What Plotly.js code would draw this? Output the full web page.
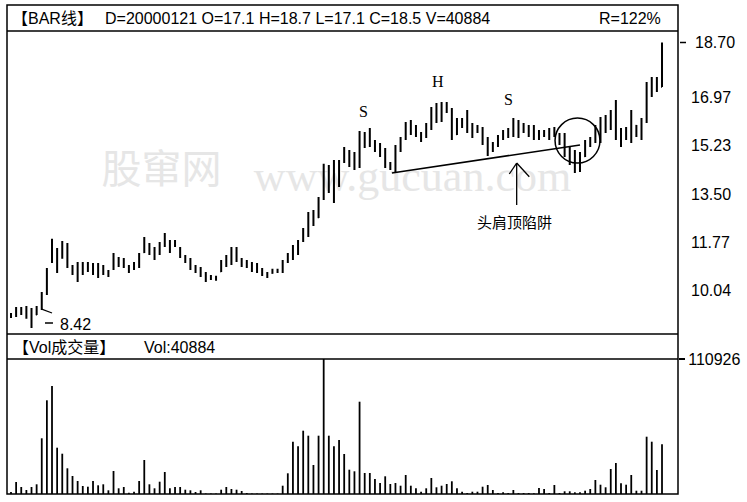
<!DOCTYPE html>
<html><head><meta charset="utf-8">
<script src="https://cdn.plot.ly/plotly-3.0.1.min.js"></script>
<style>html,body{margin:0;padding:0;background:#fff}#chart{width:747px;height:502px}</style>
</head><body><div id="chart"></div>
<script>
const openP = [8.85,8.90,9.05,8.95,9.10,8.90,9.15,9.70,10.80,11.20,
11.00,11.40,10.60,10.40,10.55,10.50,10.65,10.40,10.55,10.45,
10.55,10.90,10.70,10.65,10.55,10.70,11.15,11.40,11.20,11.10,
11.40,11.50,11.40,11.30,11.00,10.85,10.60,10.50,10.35,10.20,
10.25,10.45,10.75,10.90,11.20,10.90,10.70,10.75,10.55,10.50,
10.35,10.40,10.45,10.50,10.80,11.00,11.30,11.55,11.90,12.40,
12.40,13.10,14.10,13.30,14.30,14.40,14.70,14.30,14.50,15.40,
15.00,15.10,14.90,14.80,14.30,14.10,14.90,15.25,15.80,15.50,
15.40,15.30,15.70,16.20,16.30,16.20,16.30,15.40,15.90,15.60,
15.70,15.50,15.60,15.10,14.80,15.00,15.30,15.40,15.50,15.80,
15.50,15.65,15.40,15.50,15.35,15.40,15.50,15.40,15.10,14.80,
14.40,14.20,14.60,15.10,15.20,15.60,15.50,15.90,16.10,15.30,
15.50,15.30,15.70,15.40,15.90,17.10,17.30,17.10];
const highP = [8.96,9.18,9.18,9.21,9.14,9.21,9.72,10.58,11.63,11.30,
11.55,11.48,10.69,10.80,10.80,10.80,10.76,10.76,10.69,10.51,
11.12,10.98,10.94,10.69,10.80,11.12,11.70,11.48,11.34,11.52,
11.84,11.59,11.59,11.34,11.05,10.94,10.69,10.62,10.44,10.33,
10.30,10.87,11.05,11.34,11.34,10.94,10.87,10.80,10.76,10.58,
10.44,10.55,10.55,10.87,11.12,11.41,11.59,12.02,12.60,12.67,
13.14,14.33,14.29,14.47,14.47,14.94,14.83,14.76,15.51,15.48,
15.62,15.19,15.08,14.90,14.40,15.01,15.30,15.84,15.91,15.73,
15.48,15.80,16.38,16.52,16.56,16.56,16.34,15.98,15.98,16.27,
15.80,15.73,15.66,15.30,15.12,15.37,15.55,15.62,15.98,15.91,
15.80,15.73,15.73,15.55,15.55,15.62,15.66,15.44,15.44,14.94,
14.83,14.76,15.19,15.30,15.73,16.02,16.09,16.27,16.63,15.62,
15.66,16.27,15.73,15.98,17.28,17.46,17.46,18.70];
const lowP = [8.78,8.82,8.89,8.75,8.42,8.89,9.07,9.61,10.76,10.40,
10.91,10.58,10.33,10.08,10.33,10.44,10.33,10.22,10.33,10.26,
10.51,10.62,10.58,10.40,10.51,10.58,11.12,11.05,10.87,11.05,
11.34,11.12,11.34,10.94,10.76,10.51,10.40,10.26,10.08,10.15,
10.12,10.44,10.62,10.69,10.80,10.62,10.58,10.44,10.40,10.29,
10.22,10.37,10.40,10.40,10.76,10.87,11.05,11.52,11.70,12.09,
12.38,13.03,13.28,12.92,13.50,14.36,14.22,14.11,14.18,14.90,
14.94,14.76,14.58,14.18,14.11,14.04,14.76,15.19,15.37,15.30,
15.12,15.26,15.55,15.80,15.84,16.16,15.19,15.37,15.62,15.44,
15.26,15.44,15.01,14.61,14.76,14.94,15.19,15.26,15.30,15.26,
15.44,15.30,15.19,15.19,15.30,15.19,15.30,15.01,14.58,14.29,
14.00,14.04,14.58,14.94,15.08,15.08,15.44,15.55,15.19,14.94,
15.19,15.08,15.30,15.19,15.80,16.74,16.92,17.10];
const closeP = [8.90,9.05,8.95,9.10,8.80,9.15,9.65,10.50,11.30,11.10,
11.45,10.70,10.45,10.60,10.45,10.70,10.40,10.60,10.45,10.35,
11.00,10.70,10.85,10.50,10.70,11.05,11.55,11.20,11.00,11.45,
11.70,11.30,11.50,11.00,10.85,10.60,10.50,10.35,10.15,10.25,
10.20,10.80,10.95,11.25,10.90,10.70,10.80,10.55,10.60,10.35,
10.30,10.50,10.50,10.80,11.05,11.35,11.50,11.95,12.50,12.30,
13.05,14.20,13.40,14.30,14.40,14.85,14.30,14.65,15.40,15.00,
15.50,14.85,14.70,14.25,14.20,14.95,15.25,15.75,15.50,15.60,
15.20,15.70,16.30,16.40,16.00,16.50,15.30,15.90,15.70,16.20,
15.40,15.60,15.10,14.70,15.00,15.30,15.50,15.55,15.90,15.40,
15.70,15.40,15.60,15.30,15.45,15.55,15.40,15.10,14.70,14.40,
14.20,14.60,15.10,15.20,15.65,15.20,16.00,16.10,15.30,15.50,
15.30,16.10,15.40,15.90,17.20,17.30,17.10,18.50];
const volume = [1600,9860,5750,3290,5750,7970,45770,76990,88740,38040,
33110,21120,14790,10680,6570,6000,10680,7150,7970,3040,
18900,4680,5750,1070,1890,10680,27940,7970,4680,10110,
18080,4680,5750,5750,3530,3040,1640,3040,410,410,
410,3530,5750,4110,3530,2470,820,410,410,410,
410,410,410,6820,17010,42970,39200,52010,47910,23830,
47910,110926,47910,39200,44370,32870,19970,18650,75840,17260,
17260,12330,9040,14540,8220,9040,6820,15610,6820,4680,
1890,4680,13150,5510,6820,8220,10440,4680,1890,820,
1890,1890,6000,7400,3290,820,1400,820,3290,820,
820,820,580,4930,4110,820,7400,820,2220,2220,
1400,1400,2710,4110,11500,7640,5510,20540,25470,8790,
7640,15610,2710,2710,47080,42970,19720,40884];
const priceTicks = [16.97, 15.23, 13.50, 11.77, 10.04];
const priceTickText = ['16.97', '15.23', '13.50', '11.77', '10.04'];
const volTicks = [110926];
const volTickText = ['110926'];
const headerText = 'D=20000121 O=17.1 H=18.7 L=17.1 C=18.5 V=40884';
const maxPrice = 18.70, minPrice = 8.42;

const dayIndex = highP.map((_, i) => i);
const sans = 'Liberation Sans, Arial, Noto Sans CJK SC, sans-serif';
const cjk = 'Noto Sans CJK SC, sans-serif';
const serif = 'Liberation Serif, Times New Roman, serif';
const K = '#000';

const traces = [
  {type: 'ohlc', x: dayIndex, open: openP, high: highP, low: lowP, close: closeP,
   xaxis: 'x', yaxis: 'y', tickwidth: 0.14, hoverinfo: 'skip',
   increasing: {line: {color: K, width: 2}}, decreasing: {line: {color: K, width: 2}}},
  {type: 'bar', x: dayIndex, y: volume, xaxis: 'x', yaxis: 'y2', width: 0.35,
   marker: {color: K, line: {width: 0}}, hoverinfo: 'skip'}
];

const py = p => (494 - p) / 489;   // pixel row -> paper fraction
const px = p => (p - 7) / 671;     // pixel col -> paper fraction
const ln = (x0, y0, x1, y1, w) => ({type: 'line', xref: 'x', yref: 'y', x0, y0, x1, y1, line: {color: K, width: w}});

const layout = {
  width: 747, height: 502,
  margin: {l: 7, r: 69, t: 5, b: 8, pad: 0},
  paper_bgcolor: '#fff', plot_bgcolor: '#fff',
  showlegend: false,
  font: {family: sans, size: 16, color: K},
  xaxis: {range: [-0.78, 130.12], showgrid: false, zeroline: false, showticklabels: false,
          ticks: '', showline: false, rangeslider: {visible: false}, fixedrange: true},
  yaxis: {domain: [py(334), py(31)], range: [8.204, 19.114], side: 'right',
          tickvals: priceTicks, ticktext: priceTickText, ticks: '',
          showgrid: false, zeroline: false, showline: false,
          ticklabelshift: 7, ticklabelstandoff: 12, tickfont: {family: sans, size: 16, color: K}},
  yaxis2: {domain: [0, py(359)], range: [0, 110926], side: 'right',
           tickvals: volTicks, ticktext: volTickText, ticks: 'outside', ticklen: 6,
           tickwidth: 1.5, tickcolor: K, showgrid: false, zeroline: false, showline: false,
           tickfont: {family: sans, size: 16, color: K}},
  shapes: [
    {type: 'rect', xref: 'paper', yref: 'paper', x0: 0, x1: 1, y0: 0, y1: 1, line: {color: K, width: 1.5}},
    {type: 'line', xref: 'paper', yref: 'paper', x0: 0, x1: 1, y0: py(31), y1: py(31), line: {color: K, width: 1.5}},
    {type: 'line', xref: 'paper', yref: 'paper', x0: 0, x1: 1, y0: py(334), y1: py(334), line: {color: K, width: 1.5}},
    {type: 'line', xref: 'paper', yref: 'paper', x0: 0, x1: 1, y0: py(359), y1: py(359), line: {color: K, width: 1.5}},
    // watermark (below traces)
    {type: 'rect', xref: 'paper', yref: 'paper', x0: px(100), x1: px(223), y0: py(190), y1: py(153),
     layer: 'below', line: {width: 0}, fillcolor: 'rgba(0,0,0,0)',
     label: {text: '股窜网', textposition: 'middle center', font: {family: cjk, size: 40, color: '#e6e6e6'}}},
    {type: 'rect', xref: 'paper', yref: 'paper', x0: px(252), x1: px(573), y0: py(192), y1: py(150),
     layer: 'below', line: {width: 0}, fillcolor: 'rgba(0,0,0,0)',
     label: {text: 'www.gucuan.com', textposition: 'middle center', font: {family: serif, size: 44, color: '#e6e6e6'}}},
    // max marker dash
    {type: 'line', xref: 'paper', yref: 'y', x0: px(680), x1: px(686), y0: maxPrice, y1: maxPrice, line: {color: K, width: 1.5}},
    // min marker leader
    ln(5.99, 9.10, 8.0, 8.96, 1.2),
    ln(6.63, 8.60, 8.19, 8.60, 1.5),
    // neckline
    ln(74.3, 14.00, 111.0, 15.01, 1.6),
    // circle
    {type: 'circle', xref: 'x', yref: 'y', x0: 106.13, x1: 114.9, y0: 14.36, y1: 15.98, line: {color: K, width: 1.5}},
    // arrow to neckline
    ln(98.65, 12.85, 98.65, 14.36, 1.3),
    ln(97.21, 13.965, 98.65, 14.36, 1.3),
    ln(101.11, 13.868, 98.65, 14.36, 1.3)
  ],
  annotations: [
    {xref: 'paper', yref: 'paper', x: px(10), y: py(18), xanchor: 'left', yanchor: 'middle', showarrow: false,
     text: '【BAR线】', font: {family: sans, size: 16, color: K}},
    {xref: 'paper', yref: 'paper', x: px(103), y: py(18), xanchor: 'left', yanchor: 'middle', showarrow: false,
     text: headerText, font: {family: sans, size: 16, color: K}},
    {xref: 'paper', yref: 'paper', x: px(597), y: py(18), xanchor: 'left', yanchor: 'middle', showarrow: false,
     text: 'R=122%', font: {family: sans, size: 16, color: K}},
    {xref: 'paper', yref: 'paper', x: px(11), y: py(347), xanchor: 'left', yanchor: 'middle', showarrow: false,
     text: '【Vol成交量】', font: {family: sans, size: 16, color: K}},
    {xref: 'paper', yref: 'paper', x: px(142), y: py(347), xanchor: 'left', yanchor: 'middle', showarrow: false,
     text: 'Vol:40884', font: {family: sans, size: 16, color: K}},
    {xref: 'paper', yref: 'y', x: px(693), y: maxPrice, xanchor: 'left', yanchor: 'middle', showarrow: false,
     text: maxPrice.toFixed(2), font: {family: sans, size: 16, color: K}},
    {xref: 'x', yref: 'y', x: 9.17, y: 8.53, xanchor: 'left', yanchor: 'middle', showarrow: false,
     text: minPrice.toFixed(2), font: {family: sans, size: 16, color: K}},
    {xref: 'x', yref: 'y', x: 68.67, y: 16.20, showarrow: false, text: 'S', font: {family: serif, size: 16, color: K}},
    {xref: 'x', yref: 'y', x: 83.3, y: 17.31, showarrow: false, text: 'H', font: {family: serif, size: 16, color: K}},
    {xref: 'x', yref: 'y', x: 96.96, y: 16.63, showarrow: false, text: 'S', font: {family: serif, size: 16, color: K}},
    {xref: 'x', yref: 'y', x: 98.13, y: 12.237, showarrow: false, text: '头肩顶陷阱', font: {family: cjk, size: 15, color: K}}
  ]
};

Plotly.newPlot('chart', traces, layout, {displayModeBar: false, staticPlot: true});
</script>
</body></html>
